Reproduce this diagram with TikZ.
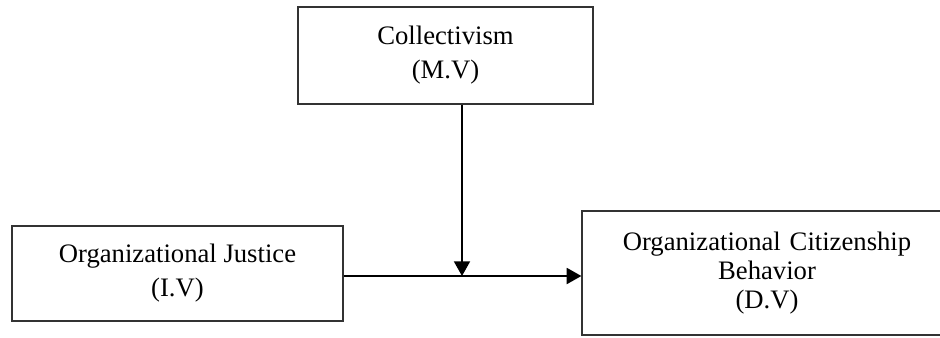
\documentclass[tikz,border=0pt]{standalone}
\usepackage{fontspec}
\setmainfont{Liberation Serif}
\usetikzlibrary{arrows.meta}
\begin{document}
\begin{tikzpicture}[x=0.75pt,y=-0.75pt,
	varbox/.style={draw=black!80,line width=0.9pt,align=center,inner sep=0pt,
		font=\fontsize{20}{25.5}\selectfont},
	link/.style={-{Triangle[length=11pt,width=12pt]},line width=1.4pt}]
	\useasboundingbox (0,0) rectangle (940,337);
	\node[varbox,minimum width=295*0.75pt,minimum height=97*0.75pt] (col) at (445.5,55.5) {Collectivism\\(M.V)};
	\node[varbox,minimum width=331*0.75pt,minimum height=95*0.75pt] (oj) at (177.5,273.5) {Organizational Justice\\(I.V)};
	\node[varbox,minimum width=370*0.75pt,minimum height=124*0.75pt,text width=348*0.75pt,
		font=\fontsize{20}{22}\selectfont] (ocb) at (767,273) {Organizational Citizenship\\Behavior\\(D.V)};
	\coordinate (mid) at (462,276);
	\draw[link] (oj.east |- mid) -- (ocb.west |- mid);
	\draw[link] (col.south -| mid) -- (mid);
\end{tikzpicture}
\end{document}
